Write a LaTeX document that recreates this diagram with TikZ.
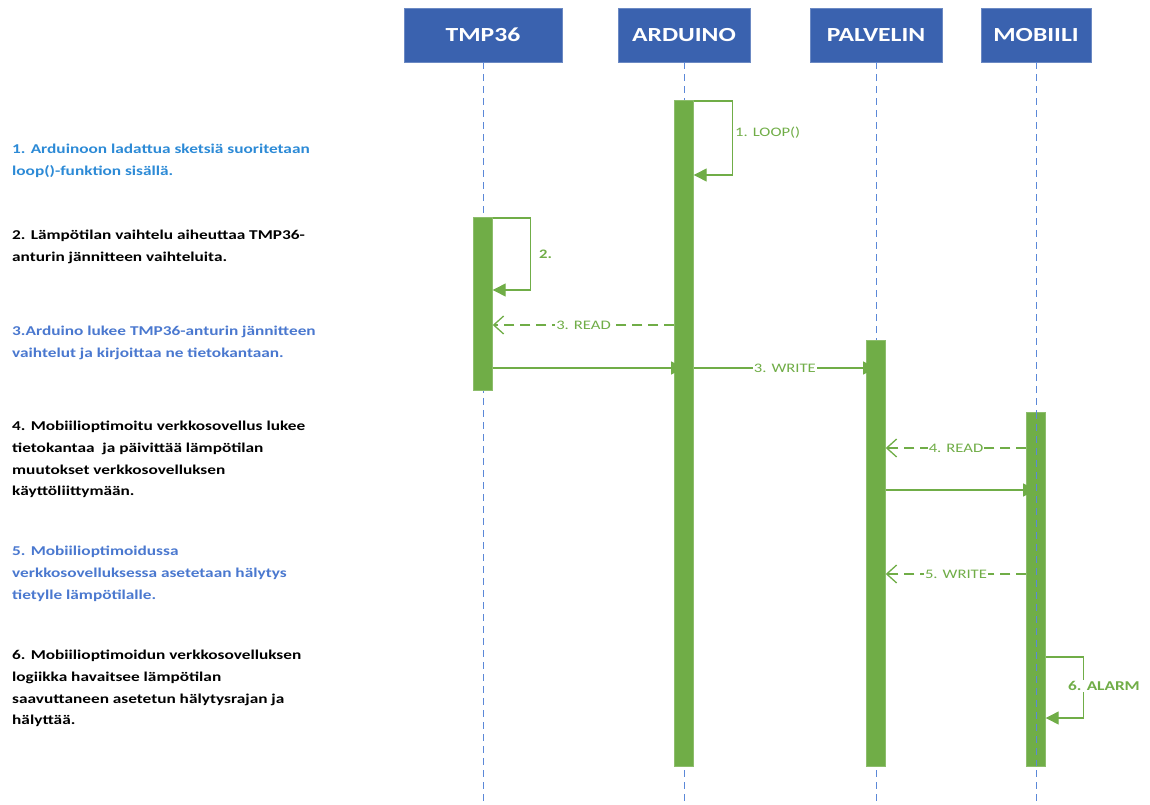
\documentclass[tikz,border=0pt]{standalone}
\usepackage{fontspec}
\setmainfont[FakeStretch=1.28]{Carlito}
\usetikzlibrary{arrows.meta,positioning}

\definecolor{headblue}{HTML}{3A62AF}
\definecolor{lifeblue}{HTML}{5B88D8}
\definecolor{bargreen}{HTML}{70AD47}
\definecolor{stepblue}{HTML}{2C8AD6}
\definecolor{noteblue}{HTML}{4A78CF}

\begin{document}
\begin{tikzpicture}[x=1pt, y=-1pt,
  head/.style = {draw=headblue!75!white, fill=headblue, text=white, font=\bfseries\fontsize{20}{24}\selectfont, minimum height=54pt, inner sep=0pt},
  life/.style = {lifeblue, dash pattern=on 7pt off 5pt, line width=1pt},
  bar/.style = {fill=bargreen, draw=bargreen!80!white, minimum width=19pt, inner sep=0pt, anchor=north},
  msg/.style = {bargreen, line width=1.3pt, -{Triangle[length=13pt,width=13pt]}},
  reply/.style = {bargreen, line width=1.3pt, dash pattern=on 10pt off 6pt, -{Straight Barb[length=10pt,width=18pt]}},
  lbl/.style = {fill=white, text=bargreen, font=\fontsize{13}{15}\selectfont, inner sep=1pt},
  note/.style = {anchor=north west, align=left, font=\bfseries\fontsize{13.5}{21.7}\selectfont, inner sep=0pt}]
		\useasboundingbox (0,0) rectangle (1150,805);
		
		% participants
		\node[head, minimum width=158pt] (tmp) at (483,35) {TMP36};
		\node[head, minimum width=132pt] (ard) at (684,35) {ARDUINO};
		\node[head, minimum width=132pt] (pal) at (876,35) {PALVELIN};
		\node[head, minimum width=110pt] (mob) at (1036,35) {MOBIILI};
		
		\path[shape=coordinate]
		(483,805) coordinate(tmpend)
		(684,805) coordinate(ardend)
		(876,805) coordinate(palend)
		(1036,805) coordinate(mobend);
		
		\draw[life] (tmp) -- (tmpend);
		\draw[life] (ard) -- (ardend);
		\draw[life] (pal) -- (palend);
		\draw[life] (mob) -- (mobend);
		
		% activations
		\node[bar, minimum height=173pt] (tmpbar) at (483,217) {};
		\node[bar, minimum height=666pt] (ardbar) at (684,100) {};
		\node[bar, minimum height=426pt] (palbar) at (876,340) {};
		\node[bar, minimum height=354pt] (mobbar) at (1036,412) {};
		\draw[life] (mobbar.north) -- (mobbar.south);
		
		% messages
		\draw[msg] ([yshift=-1pt]ardbar.north east) -- ++(39,0) |- ([yshift=-75pt]ardbar.north east);
		\node[lbl, anchor=west, fill=none] (loop1) at (734,133) {1. LOOP()};
		
		\draw[msg] ([yshift=-1pt]tmpbar.north east) -- ++(38,0) |- ([yshift=-73pt]tmpbar.north east);
		\node[lbl, anchor=west, fill=none, font=\bfseries\fontsize{13}{15}\selectfont] (loop2) at (538,254) {2.};
		
		\draw[reply] (ardbar.west |- 0,325) -- (tmpbar.east |- 0,325) node[lbl, midway] {3. READ};
		\draw[msg] (tmpbar.east |- 0,368) -- (ardbar.center |- 0,368);
		\draw[msg] (ardbar.east |- 0,368) -- (palbar.center |- 0,368) node[lbl, midway] {3. WRITE};
		
		\draw[reply] (mobbar.west |- 0,448) -- (palbar.east |- 0,448) node[lbl, midway] {4. READ};
		\draw[msg] (palbar.east |- 0,490) -- (mobbar.center |- 0,490);
		\draw[reply] (mobbar.west |- 0,574) -- (palbar.east |- 0,574) node[lbl, midway] {5. WRITE};
		
		\draw[msg] (mobbar.east |- 0,657) -- ++(38,0) |- (mobbar.east |- 0,718);
		\node[lbl, font=\bfseries\fontsize{13.5}{15}\selectfont] (alarm) at (1104,686) {6. ALARM};
		
		% steps
		\node[note, text=stepblue] (step1) at (12,144) {1. Arduinoon ladattua sketsiä suoritetaan\\loop()-funktion sisällä.};
		\node[note] (step2) at (12,230) {2. Lämpötilan vaihtelu aiheuttaa TMP36-\\anturin jännitteen vaihteluita.};
		\node[note, text=noteblue] (step3) at (12,326) {3.Arduino lukee TMP36-anturin jännitteen\\vaihtelut ja kirjoittaa ne tietokantaan.};
		\node[note] (step4) at (12,421) {4. Mobiilioptimoitu verkkosovellus lukee\\tietokantaa\ \ ja päivittää lämpötilan\\muutokset verkkosovelluksen\\käyttöliittymään.};
		\node[note, text=noteblue] (step5) at (12,546) {5. Mobiilioptimoidussa\\verkkosovelluksessa asetetaan hälytys\\tietylle lämpötilalle.};
		\node[note] (step6) at (12,650) {6. Mobiilioptimoidun verkkosovelluksen\\logiikka havaitsee lämpötilan\\saavuttaneen asetetun hälytysrajan ja\\hälyttää.};
	\end{tikzpicture}
\end{document}
